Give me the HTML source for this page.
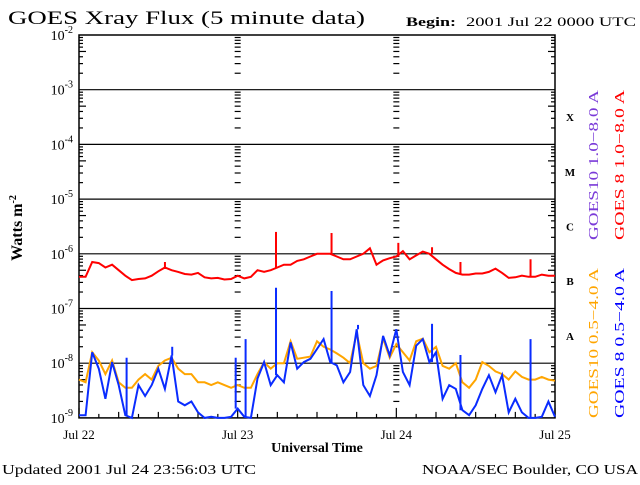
<!DOCTYPE html>
<html><head><meta charset="utf-8"><style>
body{margin:0;background:#fff;}
svg text{font-family:"Liberation Serif",serif;}
</style></head><body>
<svg id="chart" width="640" height="480" xmlns="http://www.w3.org/2000/svg">
<rect width="640" height="480" fill="#fff"/>
<text x="8" y="24" font-size="19" textLength="357" lengthAdjust="spacingAndGlyphs">GOES Xray Flux (5 minute data)</text>
<text x="406" y="26" font-size="13" font-weight="bold" textLength="50" lengthAdjust="spacingAndGlyphs">Begin:</text>
<text x="466" y="26" font-size="13" textLength="170" lengthAdjust="spacingAndGlyphs">2001 Jul 22 0000 UTC</text>
<g id="grid"></g>
<g id="series"></g>
<text transform="translate(22,228) rotate(-90)" text-anchor="middle" font-size="16" font-weight="bold">Watts m<tspan dy="-6" font-size="10">-2</tspan></text>
<text x="317" y="452" text-anchor="middle" font-size="14" font-weight="bold">Universal Time</text>
<text x="2" y="474" font-size="14" textLength="254" lengthAdjust="spacingAndGlyphs">Updated 2001 Jul 24 23:56:03 UTC</text>
<text x="422" y="474" font-size="14" textLength="216" lengthAdjust="spacingAndGlyphs">NOAA/SEC Boulder, CO USA</text>
<text transform="translate(598,240) rotate(-90)" font-size="14" fill="#7a3ad8" textLength="150" lengthAdjust="spacingAndGlyphs">GOES10 1.0−8.0 A</text>
<text transform="translate(624,240) rotate(-90)" font-size="14" fill="#ff0000" textLength="150" lengthAdjust="spacingAndGlyphs">GOES 8 1.0−8.0 A</text>
<text transform="translate(598,418) rotate(-90)" font-size="14" fill="#ffa500" textLength="150" lengthAdjust="spacingAndGlyphs">GOES10 0.5−4.0 A</text>
<text transform="translate(624,418) rotate(-90)" font-size="14" fill="#0000ff" textLength="150" lengthAdjust="spacingAndGlyphs">GOES 8 0.5−4.0 A</text>
</svg>
<script>
const yDecades=[-2,-3,-4,-5,-6,-7,-8,-9];
const xDayLabels=["Jul 22","Jul 23","Jul 24","Jul 25"];
const flareClasses=["X","M","C","B","A"];
const flareClassExp=[-3.5,-4.5,-5.5,-6.5,-7.5];
const redLong=[-6.42,-6.42,-6.15,-6.17,-6.25,-6.2,-6.3,-6.4,-6.48,-6.46,-6.45,-6.4,-6.32,-6.25,-6.3,-6.33,-6.37,-6.38,-6.35,-6.43,-6.45,-6.44,-6.47,-6.46,-6.4,-6.45,-6.42,-6.3,-6.33,-6.3,-6.25,-6.2,-6.2,-6.13,-6.1,-6.05,-6.0,-6.0,-6.0,-6.05,-6.1,-6.1,-6.05,-6.0,-5.9,-6.2,-6.12,-6.08,-6.05,-5.95,-6.1,-6.03,-5.96,-6.0,-6.1,-6.2,-6.28,-6.35,-6.38,-6.38,-6.36,-6.36,-6.33,-6.27,-6.35,-6.44,-6.43,-6.4,-6.42,-6.42,-6.38,-6.4,-6.4];
const redSpikeHours=[13,29.8,38.2,48.3,53.4,57.7,68.3];
const redSpikeVals=[-6.15,-5.6,-5.62,-5.8,-5.88,-6.15,-6.1];
const orangeShort=[-8.3,-8.35,-7.8,-7.95,-8.2,-7.95,-8.35,-8.45,-8.45,-8.3,-8.2,-8.3,-8.05,-7.95,-7.9,-8.1,-8.2,-8.2,-8.35,-8.35,-8.4,-8.35,-8.4,-8.45,-8.4,-8.45,-8.45,-8.2,-7.98,-8.1,-8.0,-8.0,-7.6,-7.92,-7.9,-7.88,-7.6,-7.7,-7.75,-7.82,-7.9,-8.0,-7.45,-8.0,-8.1,-8.05,-7.55,-7.9,-7.65,-7.8,-7.95,-7.6,-7.55,-7.8,-7.7,-8.05,-8.1,-8.0,-8.35,-8.45,-8.3,-7.98,-8.05,-8.15,-8.2,-8.3,-8.15,-8.25,-8.3,-8.3,-8.25,-8.3,-8.32];
const blueShort=[-8.95,-8.95,-7.8,-8.1,-8.65,-7.98,-8.4,-8.95,-9,-8.4,-8.6,-8.4,-8.1,-8.47,-7.86,-8.7,-8.77,-8.7,-8.9,-9,-8.98,-9,-9,-8.98,-8.83,-8.98,-9,-8.28,-7.98,-8.4,-8.22,-8.35,-7.62,-8.1,-7.98,-7.92,-7.74,-7.56,-7.98,-8.04,-8.35,-8.16,-7.38,-8.4,-8.6,-8.22,-7.5,-7.86,-7.38,-8.16,-8.4,-7.68,-7.56,-7.98,-7.8,-8.65,-8.4,-8.47,-8.86,-8.95,-8.77,-8.47,-8.22,-8.53,-8.22,-8.9,-8.65,-8.9,-9,-9,-8.98,-8.7,-8.98];
const blueSpikeHours=[7.2,14.1,23.7,25.2,29.8,38.2,42.2,53.4,57.7,68.3];
const blueSpikeVals=[-7.9,-7.7,-7.9,-7.56,-6.62,-6.68,-7.3,-7.28,-7.85,-7.56];

const X0=79,X1=555,Y0=35,YD=54.7;
const xs=h=>X0+h*(X1-X0)/72;
const ys=v=>Y0+(-2-v)*YD;
const NS="http://www.w3.org/2000/svg";
const grid=document.getElementById('grid'),ser=document.getElementById('series');
function mk(tag,attrs,parent){const e=document.createElementNS(NS,tag);for(const k in attrs)e.setAttribute(k,attrs[k]);parent.appendChild(e);return e;}

const frame=mk('rect',{x:X0,y:Y0,width:X1-X0,height:ys(-9)-Y0,fill:'none',stroke:'#000','stroke-width':1.5},grid);


yDecades.forEach((d,i)=>{
  const y=ys(d);
  if(i>0&&i<yDecades.length-1){const l=mk('line',{x1:X0,x2:X1,y1:y,y2:y,stroke:'#000','stroke-width':1.2},grid);
    
    }
  const t=mk('text',{x:X0-6,y:y+5,'text-anchor':'end','font-size':14},grid);
  
  
  t.innerHTML='10<tspan dy="-7" font-size="10">'+d+'</tspan>';
  if(i<yDecades.length-1){
    for(let m=2;m<=9;m++){
      const yy=ys(d-1+Math.log10(m));
      const w=m===5?7:4;
      [X0,xs(24)-3,xs(48)-3,X1-w].forEach(x0=>{
        const tk=mk('line',{x1:x0,x2:x0+(x0===X0?w:(x0===X1-w?w:6)),y1:yy,y2:yy,stroke:'#000','stroke-width':1.2},grid);
        
        
      });
    }
  }
});
xDayLabels.forEach((lab,i)=>{
  const x=xs(i*24);
  const t=mk('text',{x:x,y:439,'text-anchor':'middle','font-size':13},grid);
  t.textContent=lab;
  
  
});
for(let h=0;h<=72;h+=3){
  const x=xs(h);const len=h%24===0?10:(h%6===0?6:4);
  const tk=mk('line',{x1:x,x2:x,y1:ys(-9),y2:ys(-9)-len,stroke:'#000','stroke-width':1.2},grid);
  
  
}
flareClasses.forEach((c,i)=>{
  const t=mk('text',{x:570,y:ys(flareClassExp[i])+4,'text-anchor':'middle','font-size':11,'font-weight':'bold'},grid);
  t.textContent=c;
  
  
});

function line(vals){return vals.map((v,i)=>(i?'L':'M')+xs(i).toFixed(1)+' '+ys(v).toFixed(1)).join('');}
function spikes(hrs,vals,base,color,name){
  hrs.forEach((h,i)=>{const x=xs(h);
    let bi=Math.min(72,Math.round(h));
    const l=mk('line',{x1:x,x2:x,y1:ys(base[bi]),y2:ys(vals[i]),stroke:color,'stroke-width':2},ser);
    
    
  });
}
const po=mk('path',{d:line(orangeShort),fill:'none',stroke:'#ffa500','stroke-width':2},ser);


const pb=mk('path',{d:line(blueShort),fill:'none',stroke:'#0a2cff','stroke-width':2},ser);


spikes(blueSpikeHours,blueSpikeVals,blueShort,'#0a2cff','goes8-short-spike');
const pr=mk('path',{d:line(redLong),fill:'none',stroke:'#ff0000','stroke-width':2},ser);


spikes(redSpikeHours,redSpikeVals,redLong,'#ff0000','goes8-long-spike');
</script>
</body></html>
